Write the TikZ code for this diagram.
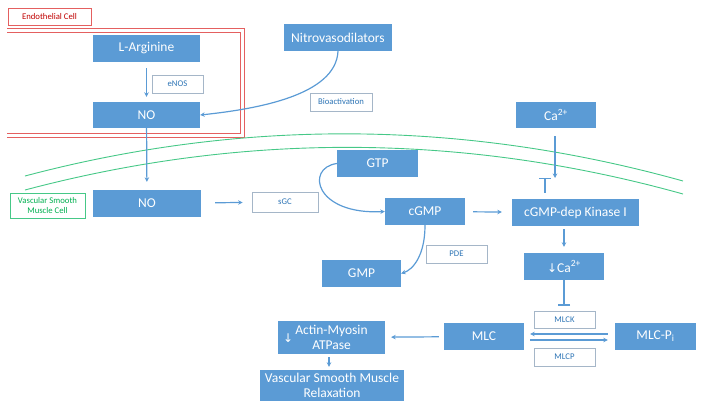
\documentclass[tikz,border=0pt]{standalone}
\usepackage{fontspec}
\setmainfont{Carlito}
\newfontfamily\symfont{DejaVu Sans}
\usetikzlibrary{arrows.meta}

\definecolor{boxblue}{RGB}{91,155,213}
\definecolor{lblblue}{RGB}{46,117,182}
\definecolor{lblgrey}{RGB}{165,182,200}
\definecolor{ecred}{RGB}{192,0,0}
\definecolor{eclight}{RGB}{228,96,96}
\definecolor{smgreen}{RGB}{0,176,80}
\definecolor{smlight}{RGB}{70,200,135}

\tikzset{
  blkbox/.style={fill=boxblue, text=white, font=\fontsize{13.5}{15}\selectfont, align=center, inner sep=1pt},
  lblbox/.style={draw=lblgrey, fill=white, text=lblblue, line width=0.8pt, font=\fontsize{8.7}{9}\selectfont, inner sep=1pt},
  cellbox/.style={fill=white, line width=0.8pt, font=\fontsize{8.7}{10}\selectfont, align=center, inner sep=1pt},
  flow/.style={draw=boxblue, line width=1.2pt, -{Stealth[length=4.5pt,width=4.5pt]}},
  blocked/.style={draw=boxblue, line width=1.2pt, -{Bar[width=12pt]}},
  wall/.style={line width=0.9pt},
}

\begin{document}
\begin{tikzpicture}[x=1pt,y=-1pt]
   \useasboundingbox (0,0) rectangle (704,410);
   % cell borders
   \draw[wall, draw=eclight] (7,28) -- (244,28) -- (244,137) -- (7,137);
   \draw[wall, draw=eclight] (7,32) -- (240,32) -- (240,133) -- (7,133);
   \draw[wall, draw=smlight] (25,176) .. controls (244,118) and (464,120) .. (683,181);
   \draw[wall, draw=smlight] (25,190) .. controls (244,132) and (464,133) .. (683,194);
   \node[cellbox, draw=eclight, text=ecred, minimum width=83, minimum height=17] (ec) at (49.5,16.5) {Endothelial Cell};
   \node[cellbox, draw=smlight, text=smgreen, minimum width=75, minimum height=25] (vsmc) at (47.5,205.5) {Vascular Smooth\\Muscle Cell};

   % endothelial cell
   \node[blkbox, minimum width=107, minimum height=27] (arg) at (146.5,48.5) {L-Arginine};
   \node[lblbox, minimum width=51, minimum height=18] (enos) at (177.5,84) {eNOS};
   \node[blkbox, minimum width=107, minimum height=26] (noEC) at (146.5,115) {NO};
   \node[blkbox, minimum width=108, minimum height=27] (nitro) at (338,37.5) {Nitrovasodilators};
   \node[lblbox, minimum width=62, minimum height=18] (bioact) at (341,102) {Bioactivation};

   % smooth muscle cell
   \node[blkbox, minimum width=108, minimum height=27] (noSM) at (147,203.5) {NO};
   \node[lblbox, minimum width=66, minimum height=20] (sgc) at (285,202) {sGC};
   \node[blkbox, minimum width=81, minimum height=27] (gtp) at (377.5,163.5) {GTP};
   \node[blkbox, minimum width=80, minimum height=27] (cgmp) at (425,211.5) {cGMP};
   \node[lblbox, minimum width=61, minimum height=18] (pde) at (456.5,254) {PDE};
   \node[blkbox, minimum width=79, minimum height=27] (gmp) at (361.5,273.5) {GMP};
   \node[blkbox, minimum width=80, minimum height=26] (ca) at (556,115) {Ca\textsuperscript{2+}};
   \node[blkbox, minimum width=127, minimum height=27] (kinase) at (575.5,212.5) {cGMP-dep Kinase I};
   \node[blkbox, minimum width=80, minimum height=27] (dca) at (564,266.5) {{\symfont\fontsize{12}{14}\selectfont ↓}Ca\textsuperscript{2+}};
   \node[lblbox, minimum width=61, minimum height=17] (mlck) at (564.5,319.5) {MLCK};
   \node[lblbox, minimum width=61, minimum height=18] (mlcp) at (564.5,357) {MLCP};
   \node[blkbox, minimum width=80, minimum height=27] (mlc) at (484,336.5) {MLC};
   \node[blkbox, minimum width=81, minimum height=27] (mlcpi) at (655.5,336.5) {MLC-P\textsubscript{i}};
   \node[blkbox, minimum width=107, minimum height=33,
         label={[text=white, anchor=west, xshift=5pt, yshift=-1pt, inner sep=0pt]west:{\symfont\fontsize{12}{14}\selectfont ↓}}] (actin) at (331.5,337.5) {Actin-Myosin\\ATPase};
   \node[blkbox, minimum width=144, minimum height=31] (relax) at (332,385.5) {Vascular Smooth Muscle\\Relaxation};
   \coordinate (caBar) at (545,178);

   % connectors
   \draw[flow, shorten <=6pt, shorten >=5pt] (arg) -- (noEC);
   \draw[flow] (nitro.south) .. controls +(-2,44) and +(57,-6) .. (noEC.east);
   \draw[flow, shorten >=8pt] (noEC) -- (noSM);
   \draw[flow, shorten <=14pt, shorten >=9pt] (noSM) -- (sgc);
   \draw[flow] (gtp.west) .. controls (305,168) and (315,215) .. (cgmp.west);
   \draw[flow] (cgmp.south) .. controls +(0,30) and +(12,-4) .. (gmp.east);
   \draw[flow, shorten <=8pt, shorten >=10pt] (cgmp) -- (kinase);
   \draw[flow, shorten <=8pt] ([xshift=-1pt]ca.south) -- ([xshift=-1pt]ca.south |- caBar);
   \draw[blocked, shorten <=6pt] (caBar |- kinase.north) -- (caBar);
   \draw[flow, shorten <=3pt, shorten >=6pt] (dca.north |- kinase.south) -- (dca.north);
   \draw[blocked, shorten >=5pt] (dca.south) -- (dca.south |- mlck.north);
   \draw[flow, shorten <=7pt, shorten >=6pt] ([yshift=2.5pt]mlcpi.west) -- ([yshift=2.5pt]mlc.east);
   \draw[flow, shorten <=6pt, shorten >=7pt] ([yshift=-3.5pt]mlc.east) -- ([yshift=-3.5pt]mlcpi.west);
   \draw[flow, shorten <=5pt, shorten >=6pt] (mlc) -- (actin);
   \draw[flow, shorten <=3pt, shorten >=3pt] ([xshift=-2.5pt]actin.south) -- ([xshift=-2.5pt]actin.south |- relax.north);
\end{tikzpicture}
\end{document}
